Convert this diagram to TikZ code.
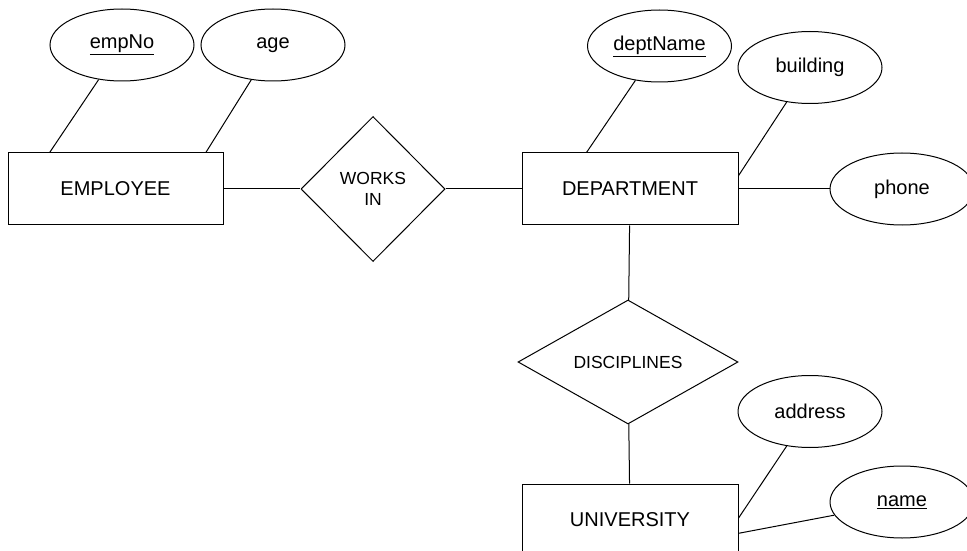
\documentclass[tikz,border=0pt]{standalone}
\usepackage{fontspec}
\setmainfont{Liberation Sans}
\usetikzlibrary{shapes.geometric}
\tikzstyle{entity} = [rectangle, minimum width=215pt, minimum height=72pt, inner sep=0pt, text centered, draw=black, line width=1pt, font=\fontsize{20}{24}\selectfont]
\tikzstyle{relation} = [diamond, inner sep=0pt, align=center, draw=black, line width=1pt, font=\fontsize{17.5}{21}\selectfont]
\tikzstyle{attrib} = [ellipse, minimum width=144pt, minimum height=72pt, inner sep=0pt, text centered, draw=black, line width=1pt, font=\fontsize{20}{24}\selectfont]
\tikzstyle{link} = [line width=1pt]

\begin{document}
\begin{tikzpicture}[x=1pt, y=1pt]
\useasboundingbox (0,0) rectangle (967,550);
\node (emp) [entity] at (115.5,361) {EMPLOYEE};
\node (works) [relation, minimum width=144pt, minimum height=145pt, right of=emp, node distance=257.5pt] {WORKS\\IN};
\node (dept) [entity, minimum width=216pt, right of=works, node distance=257pt] {DEPARTMENT};
\node (disc) [relation, aspect=1.77, minimum width=220pt, minimum height=124pt, below of=dept, node distance=173pt, xshift=-2pt] {DISCIPLINES};
\node (univ) [entity, minimum width=216pt, below of=disc, node distance=158pt, xshift=2pt] {UNIVERSITY};
% attributes
\node (empNo) [attrib] at (122,505) {\underline{empNo}};
\node (age) [attrib] at (273,505) {age};
\node (deptName) [attrib] at (659.5,504) {\underline{deptName}};
\node (building) [attrib] at (810,482.5) {building};
\node (phone) [attrib, right of=dept, node distance=272pt] {phone};
\node (address) [attrib] at (810,138.5) {address};
\node (name) [attrib] at (902,48) {\underline{name}};
\draw [link] (emp) -- (works);
\draw [link] (works) -- (dept);
\draw [link] (dept) -- (disc);
\draw [link] (disc) -- (univ);
\draw [link] (empNo.236) -- (emp.151);
\draw [link] (age.238) -- (emp.22);
\draw [link] (deptName.235) -- (dept.140);
\draw [link] (building.236) -- (dept.7);
\draw [link] (dept) -- (phone);
\draw [link] (address.236) -- (univ.1);
\draw [link] (name.191) -- (univ.-7);
\end{tikzpicture}
\end{document}
